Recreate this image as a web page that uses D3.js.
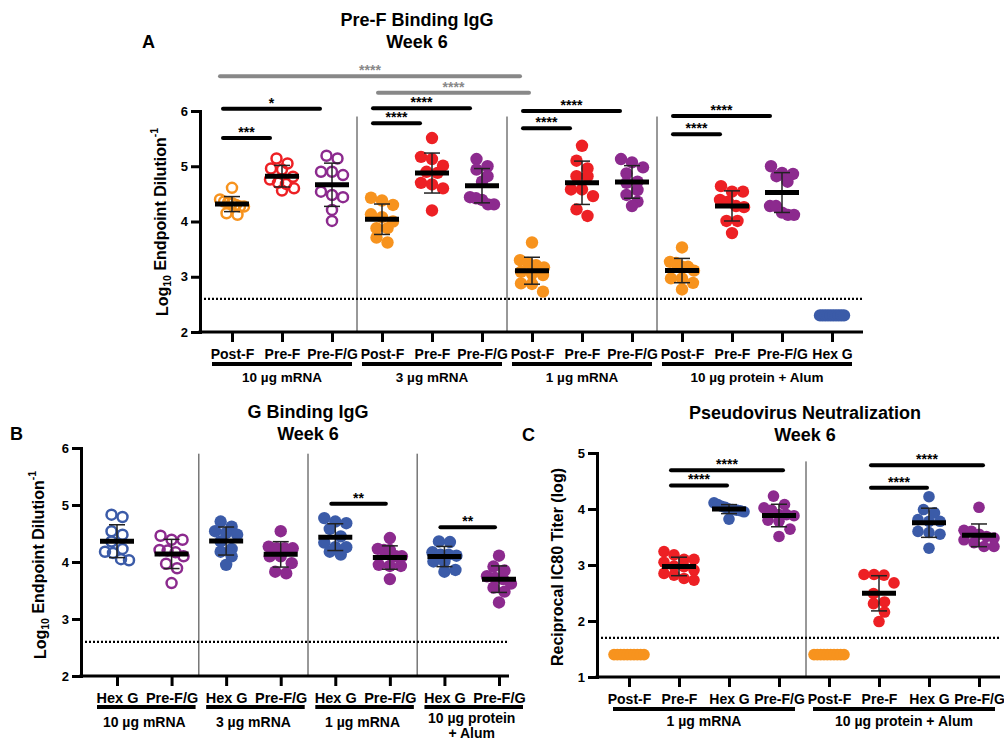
<!DOCTYPE html>
<html>
<head>
<meta charset="utf-8">
<script src="https://cdn.jsdelivr.net/npm/d3@7"></script>
<style>
  body { margin: 0; background: #fff; }
  svg text { font-family: "Liberation Sans", Arial, sans-serif; font-weight: bold; fill: #000; }
</style>
</head>
<body>
<svg id="chart" width="1004" height="742"></svg>
<script>
// ---------- panel A : Pre-F binding IgG ----------
const aGroupLabels = ["10 µg mRNA", "3 µg mRNA", "1 µg mRNA", "10 µg protein + Alum"];
const aCategories = ["Post-F", "Pre-F", "Pre-F/G", "Post-F", "Pre-F", "Pre-F/G",
                     "Post-F", "Pre-F", "Pre-F/G", "Post-F", "Pre-F", "Pre-F/G", "Hex G"];
const aGroupOf = [0, 0, 0, 1, 1, 1, 2, 2, 2, 3, 3, 3, 3];
const aValues = [
    [4.61, 4.40, 4.36, 4.34, 4.33, 4.30, 4.27, 4.27, 4.15, 4.12],
    [5.14, 5.05, 4.96, 4.94, 4.81, 4.76, 4.70, 4.68, 4.60, 4.56],
    [5.19, 5.14, 4.90, 4.90, 4.84, 4.54, 4.48, 4.44, 4.21, 4.01],
    [4.43, 4.38, 4.30, 4.13, 4.08, 4.00, 3.88, 3.88, 3.71, 3.62],
    [5.51, 5.17, 5.13, 5.01, 4.90, 4.88, 4.70, 4.67, 4.60, 4.20],
    [5.13, 5.00, 4.94, 4.82, 4.72, 4.44, 4.42, 4.39, 4.31, 4.31],
    [3.62, 3.30, 3.25, 3.21, 3.17, 3.09, 3.05, 3.03, 2.88, 2.87, 2.73],
    [5.37, 5.10, 4.96, 4.82, 4.82, 4.58, 4.58, 4.46, 4.22, 4.10],
    [5.13, 5.07, 4.98, 4.87, 4.72, 4.70, 4.57, 4.48, 4.36, 4.28],
    [3.53, 3.27, 3.25, 3.18, 3.18, 3.11, 2.97, 2.97, 2.89, 2.77],
    [4.64, 4.54, 4.54, 4.39, 4.36, 4.28, 4.26, 4.01, 4.01, 3.79],
    [5.00, 4.88, 4.86, 4.82, 4.72, 4.28, 4.28, 4.16, 4.12, 4.12],
    [2.3, 2.3, 2.3, 2.3, 2.3, 2.3, 2.3, 2.3, 2.3, 2.3]
];
const aLimit = 2.6;
const aTicks = [2, 3, 4, 5, 6];
const aSigPairs = [[0, 1], [0, 2], [3, 4], [3, 5], [6, 7], [6, 8], [9, 10], [9, 11]];
const aSigText = ["***", "*", "****", "****", "****", "****", "****", "****"];
const aCrossPairs = [[0, 6], [3, 6]];
const aCrossText = ["****", "****"];

// ---------- panel B : G binding IgG ----------
const bGroupLabels = ["10 µg mRNA", "3 µg mRNA", "1 µg mRNA", ["10 µg protein", "+ Alum"]];
const bCategories = ["Hex G", "Pre-F/G", "Hex G", "Pre-F/G", "Hex G", "Pre-F/G", "Hex G", "Pre-F/G"];
const bGroupOf = [0, 0, 1, 1, 2, 2, 3, 3];
const bValues = [
    [4.83, 4.79, 4.54, 4.48, 4.36, 4.23, 4.18, 4.16, 4.05, 4.03],
    [4.46, 4.39, 4.39, 4.21, 4.20, 4.17, 4.10, 3.97, 3.89, 3.63],
    [4.71, 4.62, 4.54, 4.51, 4.48, 4.36, 4.23, 4.18, 4.10, 3.95],
    [4.54, 4.27, 4.24, 4.24, 4.24, 4.10, 4.10, 3.98, 3.83, 3.80],
    [4.77, 4.71, 4.68, 4.58, 4.45, 4.34, 4.26, 4.26, 4.18, 4.13],
    [4.42, 4.23, 4.21, 4.21, 4.10, 4.10, 3.95, 3.93, 3.93, 3.70],
    [4.36, 4.35, 4.17, 4.13, 4.13, 4.11, 4.01, 4.01, 3.86, 3.83],
    [4.11, 3.92, 3.85, 3.75, 3.72, 3.70, 3.62, 3.55, 3.48, 3.29]
];
const bLimit = 2.6;
const bTicks = [2, 3, 4, 5, 6];
const bSigPairs = [[4, 5], [6, 7]];
const bSigText = ["**", "**"];

// ---------- panel C : pseudovirus neutralization ----------
const cGroupLabels = ["1 µg mRNA", "10 µg protein + Alum"];
const cCategories = ["Post-F", "Pre-F", "Hex G", "Pre-F/G", "Post-F", "Pre-F", "Hex G", "Pre-F/G"];
const cGroupOf = [0, 0, 0, 0, 1, 1, 1, 1];
const cValues = [
    [1.4, 1.4, 1.4, 1.4, 1.4, 1.4, 1.4, 1.4, 1.4, 1.4],
    [3.24, 3.18, 3.10, 3.10, 3.05, 2.98, 2.97, 2.91, 2.85, 2.82, 2.76, 2.73],
    [4.11, 4.08, 4.05, 4.03, 4.00, 3.99, 3.98, 3.97, 3.95, 3.82],
    [4.23, 4.08, 4.02, 3.98, 3.90, 3.90, 3.88, 3.80, 3.78, 3.64, 3.51],
    [1.4, 1.4, 1.4, 1.4, 1.4, 1.4, 1.4, 1.4, 1.4, 1.4],
    [2.83, 2.83, 2.82, 2.68, 2.49, 2.34, 2.31, 2.16, 1.99],
    [4.22, 3.99, 3.93, 3.81, 3.78, 3.78, 3.60, 3.58, 3.55, 3.30],
    [4.03, 3.62, 3.60, 3.55, 3.51, 3.48, 3.45, 3.40, 3.33, 3.33]
];
const cLimit = 1.7;
const cTicks = [1, 2, 3, 4, 5];
const cSigPairs = [[1, 2], [1, 3], [5, 6], [5, 7]];
const cSigText = ["****", "****", "****", "****"];

const catColor = {
    "Post-F": "#F7931E",
    "Pre-F": "#ED2024",
    "Pre-F/G": "#8C2A8E",
    "Hex G": "#3B5BA8"
};

const svg = d3.select('#chart');

// prism-like scatter: points close in y go on one row, spread sideways
function swarm(vals, y, rowGap, step, maxHalf) {
    const pts = vals.map(v => ({ v: v, py: y(v) })).sort((a, b) => a.py - b.py);
    const rows = [];
    let cur = null;
    pts.forEach(p => {
        if (!cur || p.py - cur[0].py >= rowGap) { cur = [p]; rows.push(cur); }
        else cur.push(p);
    });
    rows.forEach(r => {
        const k = r.length;
        const s = k > 1 ? Math.min(step, 2 * maxHalf / (k - 1)) : 0;
        r.forEach((p, j) => { p.dx = (j - (k - 1) / 2) * s; });
    });
    return pts;
}

function drawPanel(p) {
    const g = svg.append('g');
    const n = p.categories.length;
    const x = d3.scalePoint().domain(d3.range(n)).range(p.xRange);
    const y = d3.scaleLinear().domain(p.domain).range(p.yRange);
    const base = p.yRange[0];

    // group separators
    for (let i = 1; i < n; i++) {
        if (p.groupOf[i] !== p.groupOf[i - 1]) {
            const sx = (x(i - 1) + x(i)) / 2 + p.sepShift;
            g.append('line')
                .attr('x1', sx).attr('x2', sx)
                .attr('y1', y(p.sepTop)).attr('y2', base)
                .attr('stroke', '#333').attr('stroke-width', 1);
        }
    }

    // detection limit
    g.append('line')
        .attr('x1', p.x0).attr('x2', p.xEnd)
        .attr('y1', y(p.limit)).attr('y2', y(p.limit))
        .attr('stroke', '#000').attr('stroke-width', 2.2)
        .attr('stroke-dasharray', '2,2');

    // points + mean/SD
    p.values.forEach((vals, i) => {
        const open = p.openGroups.includes(p.groupOf[i]);
        const col = catColor[p.categories[i]];
        const pts = swarm(vals, y, 9, 11, p.spread);
        g.append('g').selectAll('circle')
            .data(pts)
            .join('circle')
            .attr('cx', d => x(i) + d.dx)
            .attr('cy', d => d.py)
            .attr('r', open ? p.r - 1.2 : p.r)
            .attr('fill', open ? 'none' : col)
            .attr('stroke', open ? col : 'none')
            .attr('stroke-width', open ? 2.5 : 0);

        const m = d3.mean(vals), sd = d3.deviation(vals);
        if (sd > 0) {
            const cx = x(i);
            const s = g.append('g').attr('stroke', '#222').attr('stroke-width', 1.5);
            s.append('line').attr('x1', cx).attr('x2', cx).attr('y1', y(m - sd)).attr('y2', y(m + sd));
            [m - sd, m + sd].forEach(v => {
                s.append('line').attr('x1', cx - 8).attr('x2', cx + 8).attr('y1', y(v)).attr('y2', y(v));
            });
            g.append('line')
                .attr('x1', cx - 17).attr('x2', cx + 17)
                .attr('y1', y(m)).attr('y2', y(m))
                .attr('stroke', '#000').attr('stroke-width', 5);
        }
    });

    // y axis
    const ya = g.append('g')
        .attr('transform', 'translate(' + p.x0 + ',0)')
        .call(d3.axisLeft(y).tickValues(p.ticks).tickSize(9).tickSizeOuter(0).tickPadding(3).tickFormat(d3.format('d')));
    ya.select('.domain').attr('stroke-width', 3).attr('stroke-linecap', 'square');
    ya.selectAll('.tick line').attr('stroke-width', 3);
    ya.selectAll('.tick text').style('font-size', '13px').style('font-family', null);

    // x axis
    g.append('line')
        .attr('x1', p.x0 - 1.5).attr('x2', p.xEnd)
        .attr('y1', base).attr('y2', base)
        .attr('stroke', '#000').attr('stroke-width', 3);
    const xa = g.append('g')
        .attr('transform', 'translate(0,' + base + ')')
        .call(d3.axisBottom(x).tickSize(10).tickPadding(p.catPad).tickFormat(i => p.categories[i]));
    xa.select('.domain').remove();
    xa.selectAll('.tick line').attr('stroke-width', 3);
    xa.selectAll('.tick text').style('font-size', p.catFont + 'px').style('font-family', null);

    // group underlines and labels
    d3.groups(d3.range(n), i => p.groupOf[i]).forEach(([gi, idx]) => {
        const x1 = x(idx[0]), x2 = x(idx[idx.length - 1]);
        g.append('line')
            .attr('x1', x1 - p.groupPad[0]).attr('x2', x2 + p.groupPad[1])
            .attr('y1', base + p.underlineDy).attr('y2', base + p.underlineDy)
            .attr('stroke', '#000').attr('stroke-width', 4);
        const lbl = p.groupLabels[gi];
        const lines = Array.isArray(lbl) ? lbl : [lbl];
        lines.forEach((t, k) => {
            g.append('text')
                .attr('x', (x1 + x2) / 2)
                .attr('y', base + p.groupLabelDy[lines.length - 1] + k * 15)
                .attr('text-anchor', 'middle')
                .style('font-size', p.groupFont + 'px')
                .text(t);
        });
    });

    // significance bars
    p.sig.forEach(s => {
        const x1 = x(s.pair[0]) + s.dx[0], x2 = x(s.pair[1]) + s.dx[1];
        const sy = y(s.level);
        g.append('line')
            .attr('x1', x1).attr('x2', x2).attr('y1', sy).attr('y2', sy)
            .attr('stroke', s.color).attr('stroke-width', 4).attr('stroke-linecap', 'round');
        g.append('text')
            .attr('x', (x1 + x2) / 2).attr('y', sy - 1)
            .attr('text-anchor', 'middle')
            .style('font-size', '14px')
            .style('fill', s.color)
            .text(s.text);
    });

    // titles
    p.title.forEach((t, k) => {
        g.append('text')
            .attr('x', p.titleX).attr('y', p.titleY + k * 22)
            .attr('text-anchor', 'middle')
            .style('font-size', '18px')
            .text(t);
    });
    g.append('text')
        .attr('x', p.letter[1]).attr('y', p.letter[2])
        .style('font-size', '18px')
        .text(p.letter[0]);

    // y label
    const yl = g.append('text')
        .attr('transform', 'translate(' + p.yLabelPos[0] + ',' + p.yLabelPos[1] + ') rotate(-90)')
        .attr('text-anchor', 'middle')
        .attr('dy', '0.35em')
        .style('font-size', '16px');
    p.yLabel.forEach(part => {
        const ts = yl.append('tspan').text(part.t);
        if (part.sub) ts.attr('dy', '0.3em').style('font-size', '10.5px');
        if (part.back) ts.attr('dy', part.back);
        if (part.sup) ts.attr('dy', '-0.75em').style('font-size', '10.5px');
    });
}

const logLabel = [
    { t: 'Log' },
    { t: '10', sub: true },
    { t: ' Endpoint Dilution', back: '-0.3em' },
    { t: '-1', sup: true }
];

drawPanel({
    categories: aCategories, groupOf: aGroupOf, groupLabels: aGroupLabels, values: aValues,
    limit: aLimit, ticks: aTicks, domain: [2, 6], yRange: [332, 111], xRange: [232, 832],
    x0: 200, xEnd: 863, sepTop: 5.9, sepShift: 0, openGroups: [0], r: 6.2, spread: 12,
    catFont: 14, catPad: 7, groupFont: 13.5, underlineDy: 32, groupLabelDy: [50, 50], groupPad: [20, 20],
    sig: aSigPairs.map((pr, k) => ({
        pair: pr, text: aSigText[k], color: '#000', dx: [-9, -12],
        level: [5.51, 6.04, 5.78, 6.05, 5.69, 6.00, 5.58, 5.91][k]
    })).concat(aCrossPairs.map((pr, k) => ({
        pair: pr, text: aCrossText[k], color: '#888', dx: [[-12, -12], [-4, -3]][k],
        level: [6.63, 6.33][k]
    }))),
    title: ['Pre-F Binding IgG', 'Week 6'], titleX: 417, titleY: 26, letter: ['A', 142, 48],
    yLabel: logLabel, yLabelPos: [162, 222]
});

drawPanel({
    categories: bCategories, groupOf: bGroupOf, groupLabels: bGroupLabels, values: bValues,
    limit: bLimit, ticks: bTicks, domain: [2, 6], yRange: [676, 448], xRange: [117, 499],
    x0: 81, xEnd: 509, sepTop: 5.9, sepShift: 0, openGroups: [0], r: 6.2, spread: 12,
    catFont: 14.5, catPad: 7, groupFont: 14, underlineDy: 31, groupLabelDy: [51, 47], groupPad: [20, 24],
    sig: bSigPairs.map((pr, k) => ({
        pair: pr, text: bSigText[k], color: '#000', dx: [-4, -4],
        level: [5.02, 4.61][k]
    })),
    title: ['G Binding IgG', 'Week 6'], titleX: 308, titleY: 418, letter: ['B', 10, 440],
    yLabel: logLabel, yLabelPos: [40, 565]
});

drawPanel({
    categories: cCategories, groupOf: cGroupOf, groupLabels: cGroupLabels, values: cValues,
    limit: cLimit, ticks: cTicks, domain: [1, 5], yRange: [677, 453], xRange: [629, 979],
    x0: 597, xEnd: 1000, sepTop: 4.85, sepShift: 2, openGroups: [], r: 5.8, spread: 15,
    catFont: 14, catPad: 7, groupFont: 14, underlineDy: 32, groupLabelDy: [49, 49], groupPad: [16, 16],
    sig: cSigPairs.map((pr, k) => ({
        pair: pr, text: cSigText[k], color: '#000', dx: [-8, [-2, 4, -2, 4][k]],
        level: [4.42, 4.69, 4.38, 4.78][k]
    })),
    title: ['Pseudovirus Neutralization', 'Week 6'], titleX: 805, titleY: 419, letter: ['C', 522, 441],
    yLabel: [{ t: 'Reciprocal IC80 Titer (log)' }], yLabelPos: [557, 567]
});
</script>
</body>
</html>
